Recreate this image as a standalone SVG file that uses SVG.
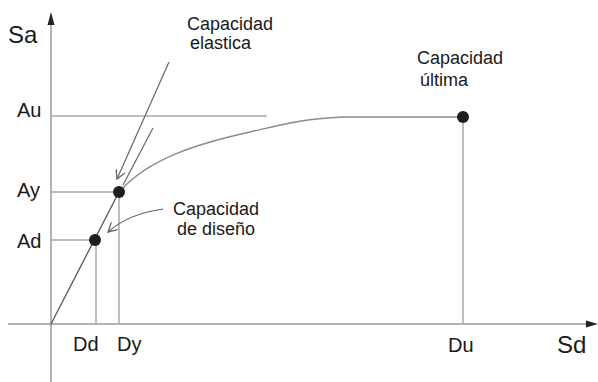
<svg xmlns="http://www.w3.org/2000/svg" width="598" height="382" viewBox="0 0 598 382">
<defs>
<style>
text{font-family:"Liberation Sans",Arial,sans-serif;fill:#1a1a1a}
.lbl{font-size:18px}
.ax{font-size:20px}
.big{font-size:24px}
.axis{stroke:#9a9a9a;stroke-width:1.5;fill:none}
.guide{stroke:#a8a8a8;stroke-width:1.5;fill:none}
.elastic{stroke:#555;stroke-width:1.3;fill:none}
.curve{stroke:#8a8a8a;stroke-width:1.5;fill:none}
.ptr{stroke:#666;stroke-width:1.2;fill:none}
.dot{fill:#1e1e1e}
</style>
<marker id="open" viewBox="0 0 10 10" refX="9" refY="5" markerWidth="10" markerHeight="10" markerUnits="userSpaceOnUse" orient="auto">
<path d="M0,0 L9,5 L0,10" fill="none" stroke="#666" stroke-width="1.3"/>
</marker>
</defs>
<rect width="598" height="382" fill="#ffffff"/>
<g id="axes">
<line class="axis" x1="51" y1="24" x2="51" y2="382"/>
<polygon points="51,12 47.5,25 54.5,25" fill="#222"/>
<line class="axis" x1="8" y1="324" x2="588" y2="324"/>
<polygon points="598,324 586,320.5 586,327.5" fill="#222"/>
<text class="big" x="8" y="43">Sa</text>
<text class="big" x="557" y="353">Sd</text>
</g>
<g id="connectors">
<line class="guide" x1="51" y1="116" x2="267" y2="116"/>
<line class="guide" x1="51" y1="192" x2="119" y2="192"/>
<line class="guide" x1="51" y1="240" x2="95" y2="240"/>
<line class="guide" x1="96" y1="240" x2="96" y2="324"/>
<line class="guide" x1="119" y1="192" x2="119" y2="324"/>
<line class="guide" x1="463" y1="117" x2="463" y2="324"/>
<line class="elastic" x1="51" y1="324" x2="119" y2="192"/>
<line class="ptr" x1="123" y1="185" x2="153" y2="128"/>
<path class="curve" d="M121,190 C150,158 200,143 250,132 C280,125 300,119 343,117 L463,117"/>
<line class="ptr" x1="169" y1="62" x2="117" y2="179" marker-end="url(#open)"/>
<path class="ptr" d="M163,209 Q128,214 108,232" marker-end="url(#open)"/>
</g>
<g id="pt-Au">
<text class="ax" x="17" y="117">Au</text>
</g>
<g id="pt-Ay">
<circle class="dot" cx="119" cy="192" r="6"/>
<text class="ax" x="17" y="197">Ay</text>
<text class="ax" x="117" y="351">Dy</text>
</g>
<g id="pt-Ad">
<circle class="dot" cx="95" cy="240" r="6"/>
<text class="ax" x="17" y="248">Ad</text>
<text class="ax" x="73" y="351">Dd</text>
</g>
<g id="pt-Du">
<circle class="dot" cx="463" cy="117" r="6"/>
<text class="ax" x="448" y="352">Du</text>
</g>
<g id="lbl-elastica">
<text class="lbl" x="187" y="30">Capacidad</text>
<text class="lbl" x="190" y="49">elastica</text>
</g>
<g id="lbl-ultima">
<text class="lbl" x="417" y="64">Capacidad</text>
<text class="lbl" x="420" y="86">última</text>
</g>
<g id="lbl-diseno">
<text class="lbl" x="173" y="215">Capacidad</text>
<text class="lbl" x="177" y="235">de diseño</text>
</g>
</svg>
